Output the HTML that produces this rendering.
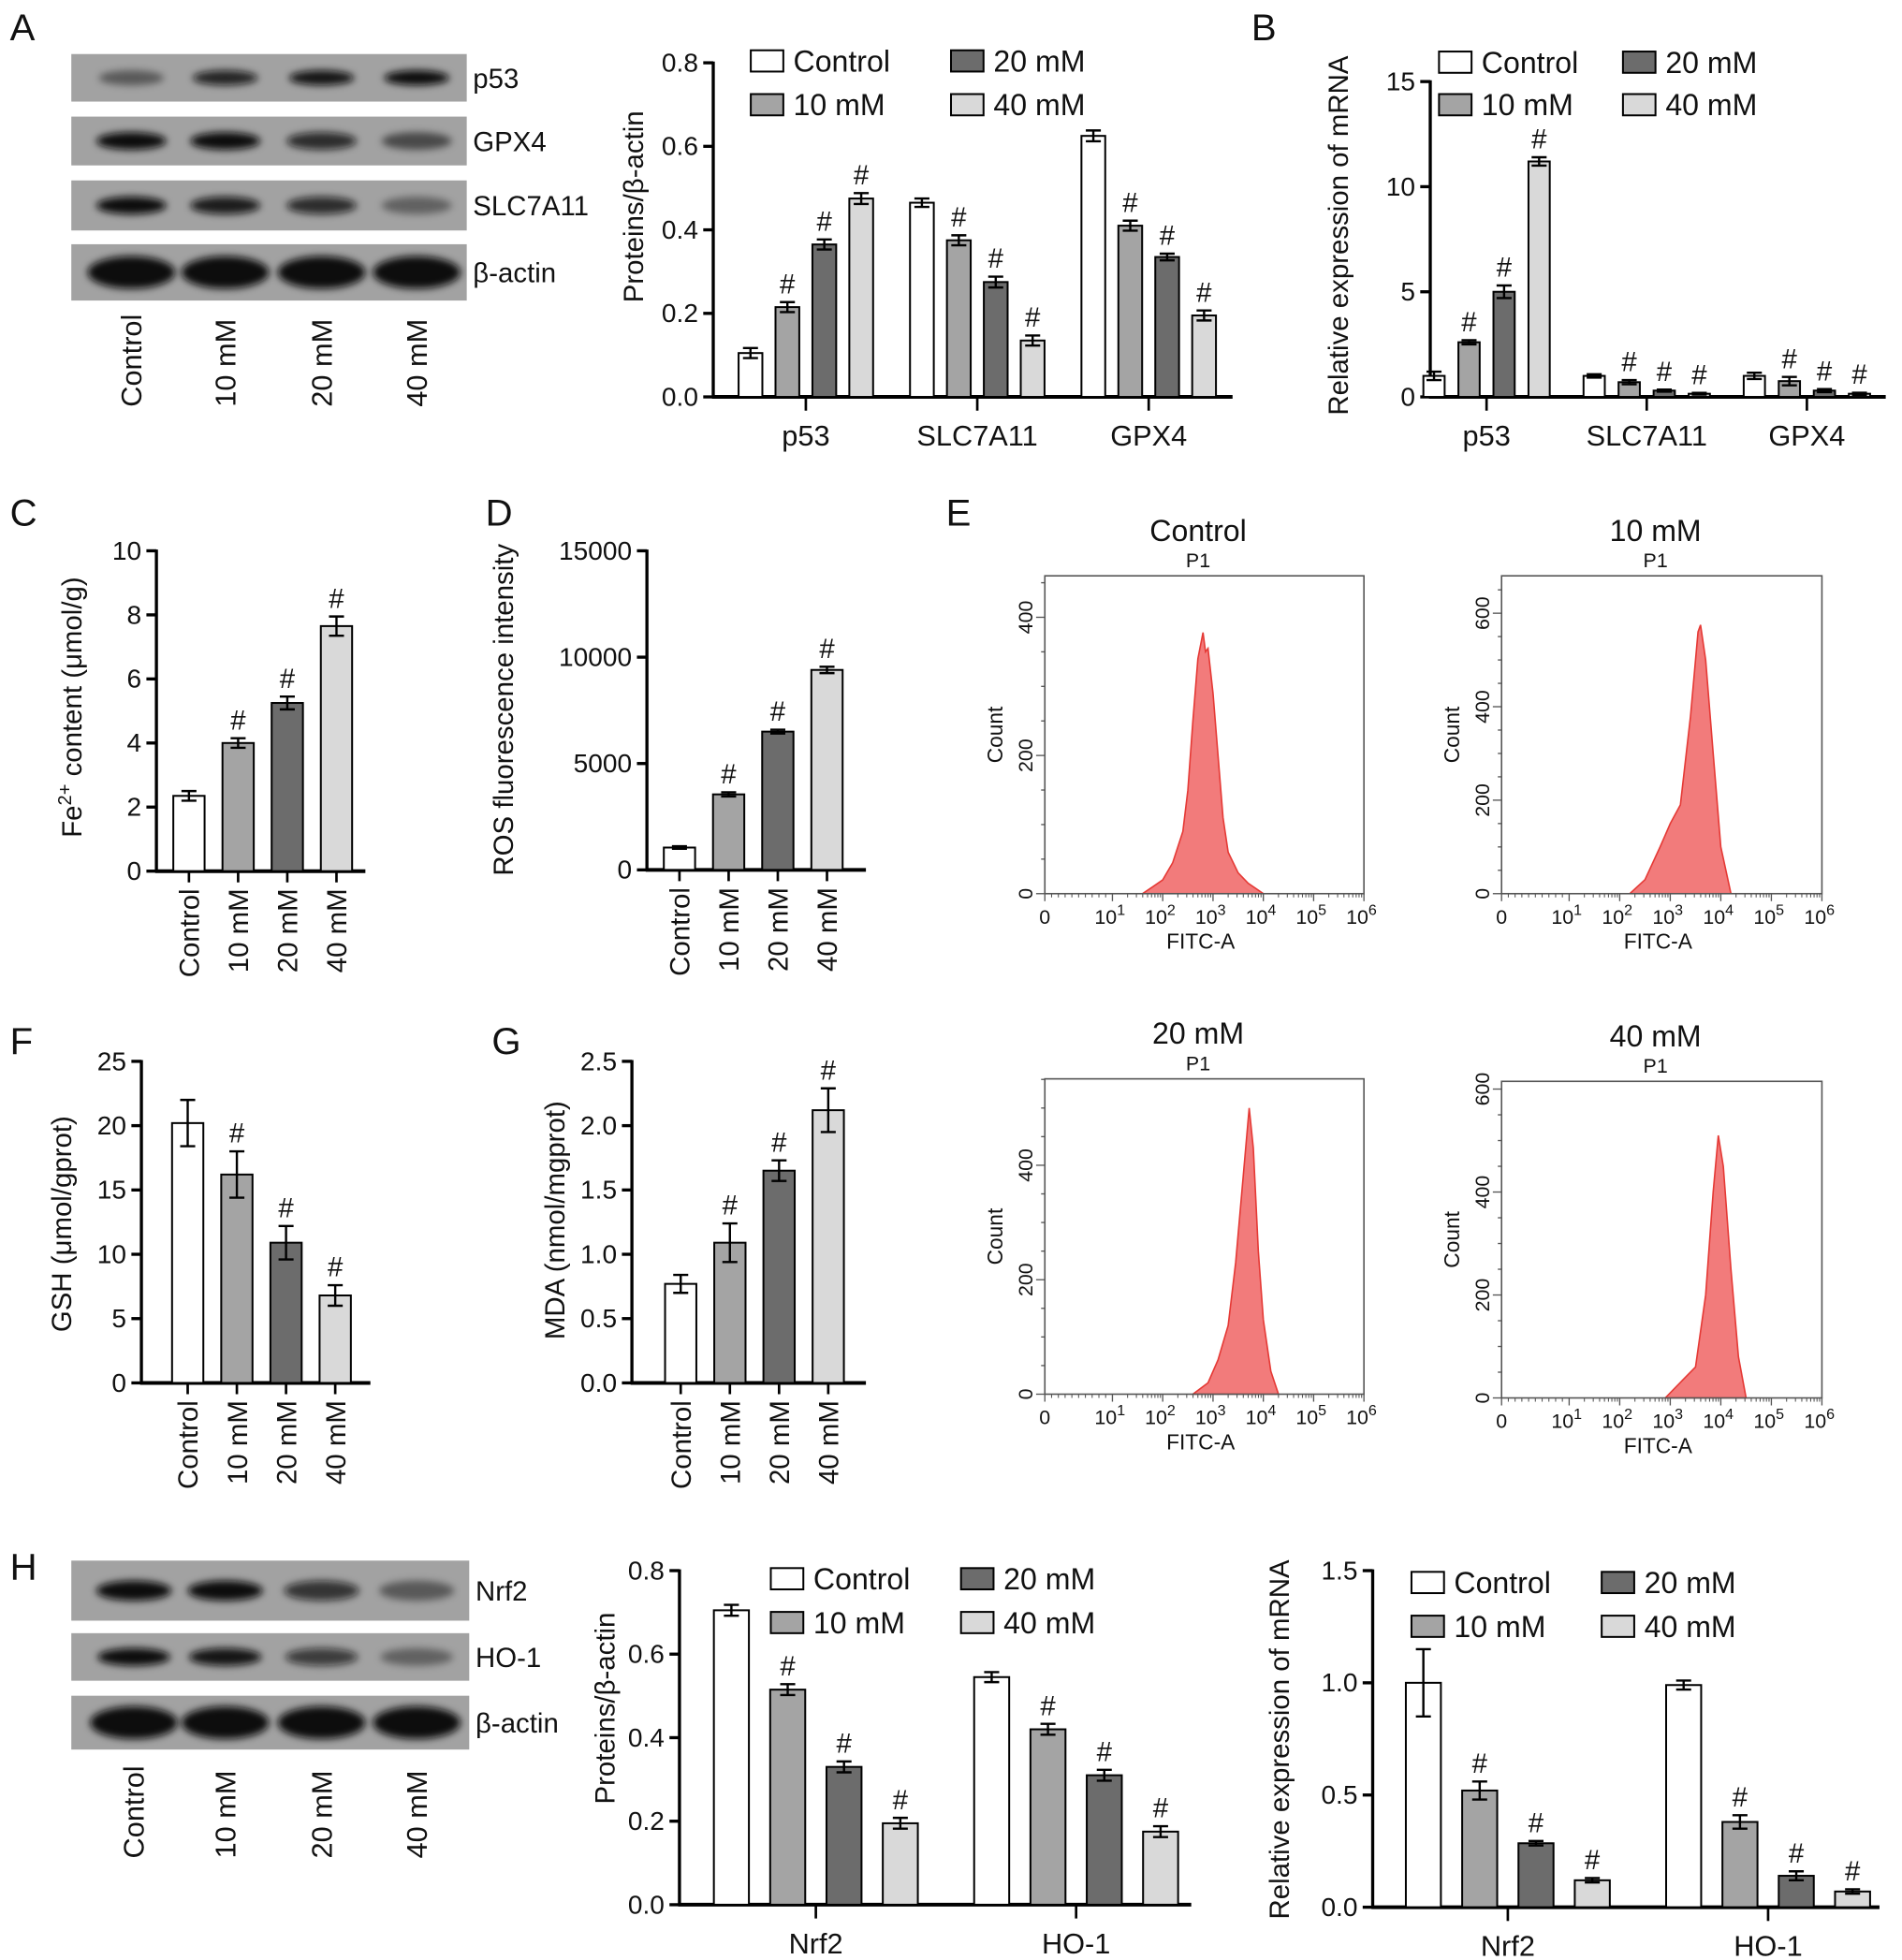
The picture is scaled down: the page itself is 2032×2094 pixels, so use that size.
<!DOCTYPE html>
<html><head><meta charset="utf-8">
<style>
html,body{margin:0;padding:0;background:#fff;}
svg{display:block;font-family:"Liberation Sans",Arial,sans-serif;}
</style></head>
<body>
<svg id="fig" xmlns="http://www.w3.org/2000/svg" width="2032" height="2094" viewBox="0 0 1520 1566">
<defs><filter id="blur" x="-50%" y="-100%" width="200%" height="300%"><feGaussianBlur stdDeviation="3"/></filter></defs>
</svg>
<script>
// ---------- DATA ----------
const seriesNames = ['Control','10 mM','20 mM','40 mM'];
const aGroups = ['p53','SLC7A11','GPX4'];
const aValues = [[0.105,0.215,0.365,0.475],[0.465,0.375,0.275,0.135],[0.625,0.41,0.335,0.195]];
const aErrors = [[0.012,0.012,0.012,0.013],[0.01,0.012,0.013,0.012],[0.013,0.012,0.008,0.012]];
const aTicks = ['0.0','0.2','0.4','0.6','0.8'];
const bGroups = ['p53','SLC7A11','GPX4'];
const bValues = [[1.0,2.6,5.0,11.2],[1.0,0.7,0.3,0.15],[1.0,0.75,0.3,0.15]];
const bErrors = [[0.2,0.1,0.3,0.2],[0.08,0.1,0.05,0.04],[0.15,0.2,0.07,0.05]];
const bTicks = ['0','5','10','15'];
const cValues = [2.35,4.0,5.25,7.65];
const cErrors = [0.15,0.15,0.2,0.3];
const cTicks = ['0','2','4','6','8','10'];
const dValues = [1050,3550,6500,9400];
const dErrors = [60,100,90,150];
const dTicks = ['0','5000','10000','15000'];
const fValues = [20.2,16.2,10.9,6.8];
const fErrors = [1.8,1.8,1.3,0.8];
const fTicks = ['0','5','10','15','20','25'];
const gValues = [0.77,1.09,1.65,2.12];
const gErrors = [0.07,0.15,0.08,0.17];
const gTicks = ['0.0','0.5','1.0','1.5','2.0','2.5'];
const hGroups = ['Nrf2','HO-1'];
const hValues = [[0.705,0.515,0.33,0.195],[0.545,0.42,0.31,0.175]];
const hErrors = [[0.013,0.013,0.013,0.013],[0.012,0.013,0.013,0.013]];
const hTicks = ['0.0','0.2','0.4','0.6','0.8'];
const h2Values = [[1.0,0.52,0.285,0.12],[0.99,0.38,0.14,0.07]];
const h2Errors = [[0.15,0.04,0.01,0.01],[0.02,0.03,0.02,0.01]];
const h2Ticks = ['0.0','0.5','1.0','1.5'];
// flow histograms: log10 FITC value and counts
const flowCtrlLog = [1.6,1.8,2.0,2.2,2.4,2.5,2.6,2.7,2.8,2.85,2.9,3.0,3.1,3.2,3.3,3.5,3.7,4.0];
const flowCtrlCnt = [0,10,20,45,90,150,250,340,378,350,355,290,200,110,60,30,15,0];
const flow10Log = [2.2,2.5,2.8,3.0,3.2,3.4,3.55,3.6,3.7,3.85,4.0,4.2];
const flow10Cnt = [0,30,100,150,190,380,560,575,500,300,100,0];
const flow20Log = [2.6,2.9,3.1,3.3,3.45,3.6,3.72,3.8,3.9,4.0,4.15,4.3];
const flow20Cnt = [0,20,60,120,230,380,500,430,250,130,40,0];
const flow40Log = [2.9,3.1,3.3,3.5,3.7,3.85,3.95,4.05,4.2,4.35,4.5];
const flow40Cnt = [0,20,40,60,200,400,510,450,250,80,0];

const colors = ['#ffffff','#a4a4a4','#6c6c6c','#d9d9d9'];
const NS='http://www.w3.org/2000/svg';
const svg=document.getElementById('fig');
function mk(tag,attrs,parent){const e=document.createElementNS(NS,tag);for(const k in attrs)e.setAttribute(k,attrs[k]);(parent||svg).appendChild(e);return e;}
function txt(s,x,y,size,parent,anchor,extra){const t=mk('text',Object.assign({x:x,y:y,'font-size':size,'text-anchor':anchor||'middle',fill:'#111'},extra||{}),parent);t.textContent=s;return t;}
function grp(name){const g=mk('g',{});return g;}

// panel letters
[['A',8,32],['B',1000,32],['C',8,420],['D',388,420],['E',756,420],['F',8,842],['G',393,842],['H',8,1262]].forEach(p=>{
  const t=txt(p[0],p[1],p[2],30,svg,'start');
  
  
});

// ---------- BLOTS ----------
function blot(name,rows,lanes,x0,x1,labelY){
  const g=grp(name);
  rows.forEach(r=>{
    const rg=mk('g',{},g);
    
    
    mk('rect',{x:x0,y:r.y0,width:x1-x0,height:r.y1-r.y0,fill:'#a2a2a2'},rg);
    const cy=(r.y0+r.y1)/2;
    r.int.forEach((v,i)=>{
      mk('ellipse',{cx:lanes[i],cy:cy,rx:r.rx,ry:r.ry,fill:'#0a0a0a','fill-opacity':v,filter:'url(#blur)'},rg);
    });
    txt(r.label,x1+5,cy+8,22,rg,'start');
  });
  lanes.forEach((lx,i)=>{
    const t=txt(seriesNames[i],0,0,23,g,'start',{transform:'translate('+(lx+8)+','+labelY+') rotate(-90)'});
    
    
  });
}
blot('blot-a',[
  {label:'p53',y0:43,y1:81,int:[0.45,0.85,0.95,1],rx:26,ry:6},
  {label:'GPX4',y0:93,y1:132,int:[1,1,0.8,0.55],rx:28,ry:7},
  {label:'SLC7A11',y0:144,y1:184,int:[1,0.9,0.8,0.4],rx:28,ry:7},
  {label:'β-actin',y0:195,y1:240,int:[1,1,1,1],rx:35,ry:13}
],[105,180,257,333],57,373,325);
blot('blot-h',[
  {label:'Nrf2',y0:1247,y1:1295,int:[1,1,0.75,0.45],rx:30,ry:8},
  {label:'HO-1',y0:1305,y1:1343,int:[1,0.95,0.7,0.4],rx:29,ry:7},
  {label:'β-actin',y0:1355,y1:1398,int:[1,1,1,1],rx:35,ry:13}
],[107,180,257,333],57,375,1485);

// ---------- BAR CHARTS ----------
function axisY(g,o,ticks){
  mk('line',{x1:o.x0,y1:o.y0,x2:o.x0,y2:o.yTop-1,stroke:'#000','stroke-width':2.5},g);
  mk('line',{x1:o.x0-1,y1:o.y0,x2:o.x1,y2:o.y0,stroke:'#000','stroke-width':3},g);
  ticks.forEach((tk,i)=>{
    const y=o.y0-(o.y0-o.yTop)*i/(ticks.length-1);
    mk('line',{x1:o.x0-8,y1:y,x2:o.x0,y2:y,stroke:'#000','stroke-width':2.5},g);
    const t=txt(tk,o.x0-12,y+7,21,g,'end');
    
    
  });
  const yt=txt('',0,0,22,g,'middle',{transform:'translate('+o.titleX+','+o.titleY+') rotate(-90)'});
  yt.innerHTML=o.title;
  
  
}
function ys(o,v){return o.y0-(v/o.max)*(o.y0-o.yTop);}
function bar(g,o,cx,v,e,ci,sig){
  const y=ys(o,v);
  const r=mk('rect',{x:cx-o.bw/2,y:y,width:o.bw,height:o.y0-y,fill:colors[ci],stroke:'#000','stroke-width':1.5},g);
  
  
  const yt=ys(o,v+e), yb=ys(o,v-e);
  mk('line',{x1:cx,y1:yt,x2:cx,y2:yb,stroke:'#000','stroke-width':1.8},g);
  mk('line',{x1:cx-6,y1:yt,x2:cx+6,y2:yt,stroke:'#000','stroke-width':1.8},g);
  mk('line',{x1:cx-6,y1:yb,x2:cx+6,y2:yb,stroke:'#000','stroke-width':1.8},g);
  if(sig){const s=txt('#',cx,yt-7,22,g);
    
    }
}
function legend(g,L){
  seriesNames.forEach((n,i)=>{
    const col=i<2?0:1, row=i%2;
    const lx=L.x[col], ly=L.y[row];
    const lg=mk('g',{},g);
    
    
    mk('rect',{x:lx,y:ly-9,width:26,height:17,fill:colors[i],stroke:'#000','stroke-width':1.5},lg);
    txt(n,lx+34,ly+8,24,lg,'start');
  });
}
function grouped(name,o,groups,vals,errs,ticks){
  const g=grp(name);
  axisY(g,o,ticks);
  groups.forEach((gn,gi)=>{
    const gc=o.firstC+gi*o.gStep;
    mk('line',{x1:gc,y1:o.y0,x2:gc,y2:o.y0+11,stroke:'#000','stroke-width':2},g);
    const t=txt(gn,gc,o.y0+39,23,g);
    
    
    vals[gi].forEach((v,si)=>bar(g,o,gc+(si-1.5)*o.bStep,v,errs[gi][si],si,si>0));
  });
  legend(g,o.leg);
}
grouped('chart-a-protein',{x0:570,x1:985,y0:317,yTop:50,max:0.8,firstC:644,gStep:137,bStep:29.5,bw:19,title:'Proteins/β-actin',titleX:514,titleY:165,leg:{x:[600,760],y:[49,84]}},aGroups,aValues,aErrors,aTicks);
grouped('chart-b-mrna',{x0:1143,x1:1507,y0:317,yTop:65,max:15,firstC:1188,gStep:128,bStep:28,bw:17,title:'Relative expression of mRNA',titleX:1077,titleY:188,leg:{x:[1150,1297],y:[50,84]}},bGroups,bValues,bErrors,bTicks);
grouped('chart-h-protein',{x0:543,x1:952,y0:1522,yTop:1255,max:0.8,firstC:652,gStep:208,bStep:45,bw:28,title:'Proteins/β-actin',titleX:491,titleY:1365,leg:{x:[616,768],y:[1262,1297]}},hGroups,hValues,hErrors,hTicks);
grouped('chart-h-mrna',{x0:1097,x1:1502,y0:1524,yTop:1255,max:1.5,firstC:1205,gStep:208,bStep:45,bw:28,title:'Relative expression of mRNA',titleX:1030,titleY:1390,leg:{x:[1128,1280],y:[1265,1300]}},hGroups,h2Values,h2Errors,h2Ticks);

function simple(name,o,vals,errs,ticks){
  const g=grp(name);
  axisY(g,o,ticks);
  vals.forEach((v,i)=>{
    const cx=o.firstC+i*o.bStep;
    mk('line',{x1:cx,y1:o.y0,x2:cx,y2:o.y0+9,stroke:'#000','stroke-width':2},g);
    bar(g,o,cx,v,errs[i],i,i>0);
    const t=txt(seriesNames[i],0,0,22,g,'end',{transform:'translate('+(cx+8)+','+(o.y0+14)+') rotate(-90)'});
    
    
  });
}
simple('chart-c-fe',{x0:125,x1:292,y0:696,yTop:440,max:10,firstC:151,bStep:39.3,bw:25,title:'Fe<tspan baseline-shift="super" font-size="15">2+</tspan> content (μmol/g)',titleX:65,titleY:565},cValues,cErrors,cTicks);
simple('chart-d-ros',{x0:517,x1:692,y0:695,yTop:440,max:15000,firstC:543,bStep:39.3,bw:25,title:'ROS fluorescence intensity',titleX:410,titleY:567},dValues,dErrors,dTicks);
simple('chart-f-gsh',{x0:113,x1:296,y0:1105,yTop:848,max:25,firstC:150,bStep:39.3,bw:25,title:'GSH (μmol/gprot)',titleX:57,titleY:978},fValues,fErrors,fTicks);
simple('chart-g-mda',{x0:505,x1:692,y0:1105,yTop:848,max:2.5,firstC:544,bStep:39.3,bw:25,title:'MDA (nmol/mgprot)',titleX:451,titleY:975},gValues,gErrors,gTicks);

// ---------- FLOW HISTOGRAMS ----------
function flow(name,title,o,logs,cnts,yticks){
  const g=grp(name);
  const t=txt(title,(o.x0+o.x1)/2-5,o.y1-28,24,g);
  
  
  txt('P1',(o.x0+o.x1)/2-5,o.y1-7,16,g);
  const dec=(o.x1-o.x0-54)/5;
  const xs=l=>o.x0+54+(l-1)*dec;
  const ysf=c=>o.yb-(c/o.ymax)*(o.yb-o.y1);
  let d='M'+xs(logs[0])+','+o.yb;
  logs.forEach((l,i)=>{d+=' L'+xs(l).toFixed(1)+','+ysf(cnts[i]).toFixed(1);});
  d+=' L'+xs(logs[logs.length-1])+','+o.yb+' Z';
  const p=mk('path',{d:d,fill:'#f27b7b',stroke:'#e53935','stroke-width':1.2},g);
  
  
  mk('rect',{x:o.x0,y:o.y1,width:o.x1-o.x0,height:o.yb-o.y1,fill:'none',stroke:'#555','stroke-width':1.2},g);
  for(let c=0;c<=o.ymax;c+=o.minor){const y=ysf(c);
    const maj=(c%200===0);
    mk('line',{x1:o.x0-(maj?7:3),y1:y,x2:o.x0,y2:y,stroke:'#555','stroke-width':1},g);}
  yticks.forEach(c=>{const y=ysf(c);
    txt(String(c),0,0,16,g,'middle',{transform:'translate('+(o.x0-10)+','+y+') rotate(-90)'});});
  txt('Count',0,0,17,g,'middle',{transform:'translate('+(o.x0-34)+','+((o.y1+o.yb)/2)+') rotate(-90)'});
  mk('line',{x1:o.x0,y1:o.yb,x2:o.x0,y2:o.yb+6,stroke:'#555'},g);
  txt('0',o.x0,o.yb+24,16,g);
  for(let k=1;k<=6;k++){const x=xs(k);
    mk('line',{x1:x,y1:o.yb,x2:x,y2:o.yb+6,stroke:'#555'},g);
    if(k<6)for(let m=2;m<10;m++){const xm=xs(k+Math.log10(m));mk('line',{x1:xm,y1:o.yb,x2:xm,y2:o.yb+3,stroke:'#555','stroke-width':0.8},g);}
    const tt=txt('',x-2,o.yb+24,16,g);
    tt.innerHTML='10<tspan dy="-7" font-size="12">'+k+'</tspan>';}
  for(let m=1;m<10;m++){const xm=o.x0+m*54/10;mk('line',{x1:xm,y1:o.yb,x2:xm,y2:o.yb+3,stroke:'#555','stroke-width':0.8},g);}
  txt('FITC-A',(o.x0+o.x1)/2-3,o.yb+44,17,g);
}
flow('flow-control','Control',{x0:835,x1:1090,y1:460,yb:714,ymax:460,minor:50},flowCtrlLog,flowCtrlCnt,[0,200,400]);
flow('flow-10mm','10 mM',{x0:1200,x1:1456,y1:460,yb:714,ymax:680,minor:50},flow10Log,flow10Cnt,[0,200,400,600]);
flow('flow-20mm','20 mM',{x0:835,x1:1090,y1:862,yb:1114,ymax:551,minor:50},flow20Log,flow20Cnt,[0,200,400]);
flow('flow-40mm','40 mM',{x0:1200,x1:1456,y1:864,yb:1117,ymax:615,minor:50},flow40Log,flow40Cnt,[0,200,400,600]);
</script>
</body></html>
